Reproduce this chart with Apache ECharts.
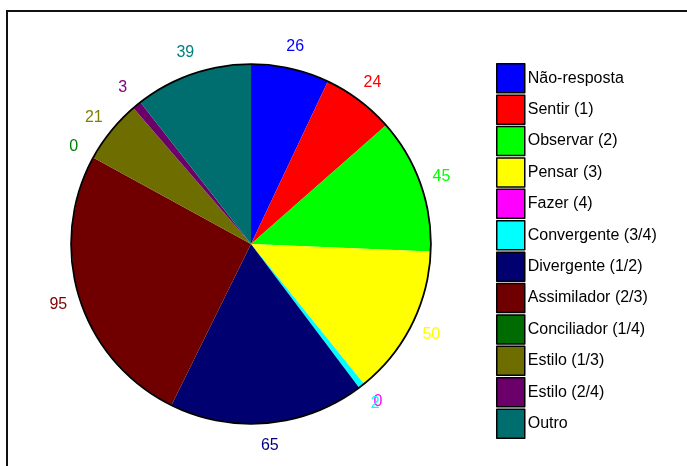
<!DOCTYPE html>
<html>
<head>
<meta charset="utf-8">
<script src="https://cdn.jsdelivr.net/npm/echarts@6/dist/echarts.min.js"></script>
<style>
  html, body { margin: 0; padding: 0; background: #fff; overflow: hidden; }
  #wrap { position: relative; width: 687px; height: 466px; overflow: hidden; }
  #chart { position: absolute; left: 0; top: 0; width: 687px; height: 466px; }
  /* moldura do gráfico (só topo e esquerda visíveis) */
  #frame { position: absolute; left: 6px; top: 10px; width: 800px; height: 600px; border: 2px solid #111; box-sizing: border-box; pointer-events: none; }
</style>
</head>
<body>
<div id="wrap">
  <div id="chart"></div>
  <div id="frame"></div>
</div>
<script>
// categorias e valores
const categories = ['Não-resposta', 'Sentir (1)', 'Observar (2)', 'Pensar (3)', 'Fazer (4)', 'Convergente (3/4)',
  'Divergente (1/2)', 'Assimilador (2/3)', 'Conciliador (1/4)', 'Estilo (1/3)', 'Estilo (2/4)', 'Outro']
const values = [26, 24, 45, 50, 0, 2, 65, 95, 0, 21, 3, 39]
const sliceColors = ['#0000ff', '#ff0000', '#00ff00', '#ffff00', '#ff00ff', '#00ffff',
  '#000070', '#700000', '#006b00', '#6e6e00', '#6b006b', '#006e6e']
const labelColors = ['#0000ff', '#ff0000', '#00ff00', '#ffff00', '#ff00ff', '#00ffff',
  '#000080', '#800000', '#008000', '#808000', '#800080', '#008080']

const center = [251, 244]
const font = 'Liberation Sans, Arial, sans-serif'

const chart = echarts.init(document.getElementById('chart'))

chart.setOption({
  animation: false,
  legend: {
    data: categories,
    orient: 'vertical',
    left: 496,
    top: 63,
    padding: 0,
    itemWidth: 28,
    itemHeight: 29,
    itemGap: 0.9,
    icon: 'rect',
    selectedMode: false,
    itemStyle: { borderColor: '#000', borderWidth: 1.5 },
    textStyle: { fontFamily: font, fontSize: 16, color: '#000', padding: [0, 0, 0, -2] }
  },
  series: [
    // fatias
    {
      type: 'pie',
      center,
      radius: [0, 179.5],
      startAngle: 90,
      clockwise: true,
      silent: true,
      label: { show: false },
      labelLine: { show: false },
      data: categories.map((name, i) => ({
        name,
        value: values[i],
        itemStyle: { color: sliceColors[i] }
      }))
    },
    // contorno preto
    {
      type: 'pie',
      center,
      radius: [179, 180.8],
      silent: true,
      label: { show: false },
      labelLine: { show: false },
      data: [{ name: '_contorno', value: 1, itemStyle: { color: '#000' } }]
    },
    // rótulos de valor (anel transparente)
    {
      type: 'pie',
      center,
      radius: [184, 214],
      startAngle: 90,
      clockwise: true,
      silent: true,
      avoidLabelOverlap: false,
      minShowLabelAngle: -1,
      labelLayout: { hideOverlap: false },
      labelLine: { show: false },
      label: {
        show: true,
        position: 'inside',
        formatter: '{c}',
        fontFamily: font,
        fontSize: 16
      },
      data: categories.map((name, i) => ({
        name,
        value: values[i],
        itemStyle: { color: 'rgba(0,0,0,0)' },
        label: { color: labelColors[i] }
      }))
    }
  ]
})
</script>
</body>
</html>
